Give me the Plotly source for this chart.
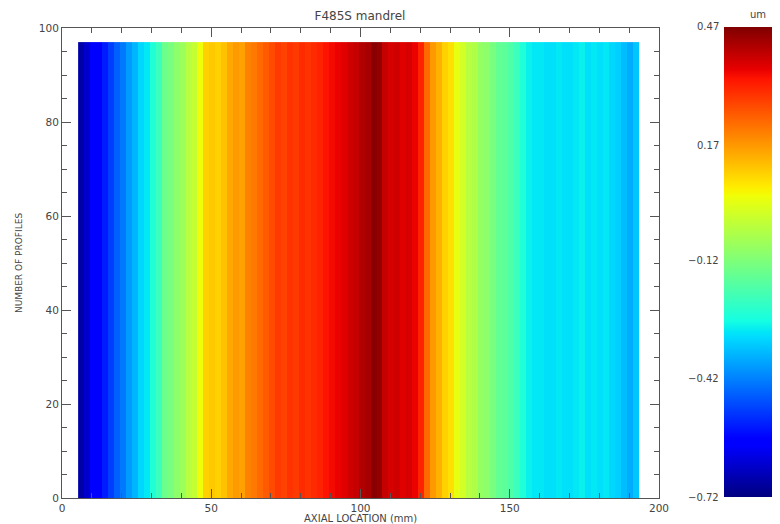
import numpy as np
import plotly.graph_objects as go

# ---- data ----
title = "F485S mandrel"
x_start_mm = 6.4
x_step_mm = 2.0
profile_values = [
    -0.68, -0.64, -0.59, -0.58, -0.54, -0.50, -0.46, -0.43, -0.39, -0.36,
    -0.32, -0.30, -0.26, -0.22, -0.15, -0.13, -0.10, -0.08, -0.04, -0.02,
    0.04, 0.10, 0.11, 0.10, 0.12, 0.15, 0.17, 0.16, 0.20, 0.21,
    0.23, 0.25, 0.27, 0.29, 0.28, 0.30, 0.29, 0.31, 0.30, 0.31,
    0.32, 0.34, 0.35, 0.36, 0.37, 0.39, 0.40, 0.42, 0.43, 0.46,
    0.45, 0.40, 0.38, 0.39, 0.37, 0.38, 0.36, 0.32, 0.23, 0.17,
    0.14, 0.10, 0.08, 0.03, 0.00, -0.04, -0.05, -0.09, -0.10, -0.13,
    -0.16, -0.17, -0.19, -0.22, -0.26, -0.29, -0.30, -0.30, -0.31, -0.31,
    -0.30, -0.31, -0.31, -0.30, -0.29, -0.31, -0.30, -0.31, -0.30, -0.32,
    -0.33, -0.35, -0.37, -0.34,
]
n_profiles = 97
zmin, zmax = -0.72, 0.47
cbar_ticks = [0.47, 0.17, -0.12, -0.42, -0.72]
cbar_ticklabels = ["0.47", "0.17", "\u22120.12", "\u22120.42", "\u22120.72"]
cbar_all_ticks = [0.47, 0.32, 0.17, 0.02, -0.12, -0.27, -0.42, -0.57, -0.72]
x_title = "AXIAL LOCATION (mm)"
y_title = "NUMBER OF PROFILES"
cbar_title = "um"

# ---- jet colorscale (matplotlib segment data) ----
seg_r = [(0, 0), (0.35, 0), (0.66, 1), (0.89, 1), (1, 0.5)]
seg_g = [(0, 0), (0.125, 0), (0.375, 1), (0.64, 1), (0.91, 0), (1, 0)]
seg_b = [(0, 0.5), (0.11, 1), (0.34, 1), (0.65, 0), (1, 0)]
stops = sorted(set([p for s in (seg_r, seg_g, seg_b) for p, _ in s]))
def interp(seg, t):
    return float(np.interp(t, [p for p, _ in seg], [v for _, v in seg]))
jet = [[t, "rgb(%d,%d,%d)" % (round(255 * interp(seg_r, t)),
                              round(255 * interp(seg_g, t)),
                              round(255 * interp(seg_b, t)))] for t in stops]

z = [list(profile_values) for _ in range(n_profiles)]
y_edges = list(range(0, n_profiles + 1))

font_color = "#444444"
OFF = 8  # default page body margin
W, H = 780 - OFF, 524 - OFF
ML, MR, MT, MB = 62 - OFF, 121, 28 - OFF, 26
pw = W - ML - MR
ph = H - MT - MB
def px_x(page_px):
    return (page_px - OFF - ML) / pw
def px_y(page_py):
    return 1 - (page_py - OFF - MT) / ph

cb_left_px = 724
cb_x = px_x(cb_left_px)

fig = go.Figure(go.Heatmap(
    z=z, x0=x_start_mm, dx=x_step_mm, y=y_edges,
    zmin=zmin, zmax=zmax, colorscale=jet,
    colorbar=dict(
        x=cb_x, xanchor="left", xref="paper",
        y=px_y(497), yanchor="bottom", len=470, lenmode="pixels",
        thickness=80, outlinewidth=0, xpad=0, ypad=0,
        tickmode="array", tickvals=cbar_all_ticks,
        ticktext=[""] * len(cbar_all_ticks),
        ticks="", showticklabels=False,
    ),
))

cb_y0, cb_y1 = px_y(497), px_y(27)
for v, lab in zip(cbar_ticks, cbar_ticklabels):
    fig.add_annotation(
        x=px_x(cb_left_px - 3), y=cb_y0 + (v - zmin) / (zmax - zmin) * (cb_y1 - cb_y0),
        xref="paper", yref="paper",
        text=lab, showarrow=False, xanchor="right", yanchor="middle",
        font=dict(family="DejaVu Sans", size=10, color=font_color),
    )
for v in cbar_all_ticks[1:-1]:
    yy = cb_y0 + (v - zmin) / (zmax - zmin) * (cb_y1 - cb_y0)
    fig.add_shape(type="line", xref="paper", yref="paper",
                  x0=cb_x, x1=px_x(cb_left_px + 9), y0=yy, y1=yy,
                  line=dict(color="#666666", width=1))
fig.add_annotation(
    x=px_x(758), y=px_y(14), xref="paper", yref="paper", text=cbar_title,
    showarrow=False, xanchor="center", yanchor="middle",
    font=dict(family="DejaVu Sans", size=10, color=font_color),
)
fig.add_annotation(
    x=px_x(360), y=px_y(518), xref="paper", yref="paper", text=x_title,
    showarrow=False, xanchor="center", yanchor="middle",
    font=dict(family="DejaVu Sans", size=10, color=font_color),
)

axis_common = dict(
    showgrid=False, zeroline=False, showline=True, linecolor="#555555",
    linewidth=1, mirror="ticks", ticks="inside", ticklen=9,
    tickcolor="#555555",
    tickfont=dict(family="DejaVu Sans", size=10.5, color=font_color),
)
fig.update_xaxes(
    range=[0, 200], tickvals=[0, 50, 100, 150, 200],
    minor=dict(dtick=10, ticks="inside", ticklen=5, tickcolor="#555555"),
    ticklabelstandoff=0,
    **axis_common,
)
fig.update_yaxes(
    range=[0, 100], tickvals=[0, 20, 40, 60, 80, 100],
    minor=dict(dtick=5, ticks="inside", ticklen=5, tickcolor="#555555"),
    title=dict(text=y_title, standoff=14,
               font=dict(family="DejaVu Sans", size=9, color=font_color)),
    **axis_common,
)
fig.update_layout(
    width=W, height=H,
    margin=dict(l=ML, r=MR, t=MT, b=MB, autoexpand=False),
    paper_bgcolor="white", plot_bgcolor="white",
    title=dict(text=title, x=(360 - OFF) / W, xanchor="center",
               y=1 - (4 / H), yanchor="top",
               font=dict(family="DejaVu Sans", size=12, color=font_color)),
)
fig.write_html("out.html")
